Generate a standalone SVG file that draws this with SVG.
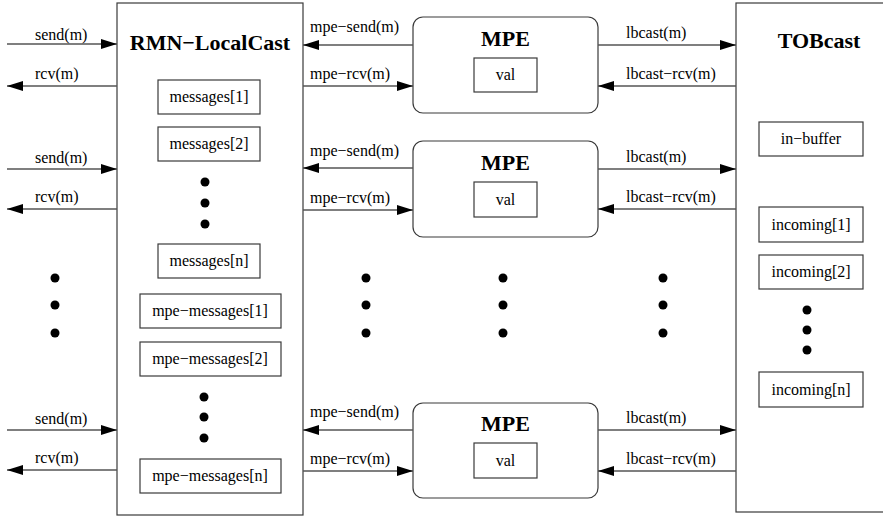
<svg xmlns="http://www.w3.org/2000/svg" width="883" height="517" viewBox="0 0 883 517">
<style>
.box{fill:#fff;stroke:#3a3a3a;stroke-width:1.2}
.ln{fill:none;stroke:#555;stroke-width:1.3}
.lbl{font-family:"Liberation Serif",serif;font-size:16px;fill:#000}
.ctr{font-family:"Liberation Serif",serif;font-size:16px;fill:#000;text-anchor:middle}
.ttl{font-family:"Liberation Serif",serif;font-size:22px;font-weight:bold;fill:#000;text-anchor:middle}
.dot{fill:#000}
</style>
<defs>
<marker id="ah" markerUnits="userSpaceOnUse" markerWidth="16" markerHeight="10" refX="16" refY="5" orient="auto">
<path d="M0,0 L16,5 L0,10 Z" fill="#000"/>
</marker>
</defs>
<rect width="883" height="517" fill="#fff"/>

<g id="rmn-localcast">
<rect class="box" x="117" y="3" width="186" height="512"/>
<text class="ttl" x="210" y="50">RMN−LocalCast</text>
<rect class="box" x="158" y="80" width="102" height="34"/>
<text class="ctr" x="209" y="102">messages[1]</text>
<rect class="box" x="158" y="127" width="102" height="34"/>
<text class="ctr" x="209" y="149">messages[2]</text>
<circle class="dot" cx="205" cy="182" r="4.5"/>
<circle class="dot" cx="205" cy="203" r="4.5"/>
<circle class="dot" cx="205" cy="224" r="4.5"/>
<rect class="box" x="158" y="244" width="102" height="34"/>
<text class="ctr" x="209" y="266">messages[n]</text>
<rect class="box" x="140" y="294" width="141" height="34"/>
<text class="ctr" x="210" y="316">mpe−messages[1]</text>
<rect class="box" x="140" y="342" width="141" height="34"/>
<text class="ctr" x="210" y="364">mpe−messages[2]</text>
<circle class="dot" cx="204" cy="397" r="4.5"/>
<circle class="dot" cx="204" cy="417" r="4.5"/>
<circle class="dot" cx="204" cy="438" r="4.5"/>
<rect class="box" x="140" y="459" width="141" height="34"/>
<text class="ctr" x="210" y="481">mpe−messages[n]</text>
</g>

<g id="mpe-1">
<rect class="box" x="413" y="17" width="185" height="96" rx="10"/>
<text class="ttl" x="505.5" y="45.5">MPE</text>
<rect class="box" x="474" y="58" width="63" height="34"/>
<text class="ctr" x="505.5" y="80">val</text>
</g>
<g id="mpe-2">
<rect class="box" x="413" y="141" width="185" height="96" rx="10"/>
<text class="ttl" x="505.5" y="170">MPE</text>
<rect class="box" x="474" y="182" width="63" height="35"/>
<text class="ctr" x="505.5" y="204.5">val</text>
</g>
<g id="mpe-n">
<rect class="box" x="413" y="403" width="185" height="95" rx="10"/>
<text class="ttl" x="505.5" y="430.5">MPE</text>
<rect class="box" x="474" y="443" width="63" height="35"/>
<text class="ctr" x="505.5" y="465.5">val</text>
</g>

<g id="tobcast">
<rect class="box" x="736" y="3" width="160" height="509"/>
<text class="ttl" x="819" y="48">TOBcast</text>
<rect class="box" x="759" y="122" width="104" height="34"/>
<text class="ctr" x="811" y="144">in−buffer</text>
<rect class="box" x="759" y="207" width="104" height="35"/>
<text class="ctr" x="811" y="229.5">incoming[1]</text>
<rect class="box" x="759" y="255" width="104" height="34"/>
<text class="ctr" x="811" y="277">incoming[2]</text>
<circle class="dot" cx="807" cy="310" r="4.5"/>
<circle class="dot" cx="807" cy="330" r="4.5"/>
<circle class="dot" cx="807" cy="350" r="4.5"/>
<rect class="box" x="759" y="372" width="104" height="35"/>
<text class="ctr" x="811" y="394.5">incoming[n]</text>
</g>

<g id="ellipsis">
<circle class="dot" cx="55" cy="278" r="4.5"/>
<circle class="dot" cx="55" cy="305" r="4.5"/>
<circle class="dot" cx="55" cy="333" r="4.5"/>
<circle class="dot" cx="366" cy="278" r="4.5"/>
<circle class="dot" cx="366" cy="305" r="4.5"/>
<circle class="dot" cx="366" cy="333" r="4.5"/>
<circle class="dot" cx="503" cy="278" r="4.5"/>
<circle class="dot" cx="503" cy="305" r="4.5"/>
<circle class="dot" cx="503" cy="333" r="4.5"/>
<circle class="dot" cx="663" cy="278" r="4.5"/>
<circle class="dot" cx="663" cy="305" r="4.5"/>
<circle class="dot" cx="663" cy="333" r="4.5"/>
</g>

<g id="connectors">
<line class="ln" x1="7" y1="44" x2="117" y2="44" marker-end="url(#ah)"/>
<text class="lbl" x="35" y="39.5">send(m)</text>
<line class="ln" x1="117" y1="86" x2="7" y2="86" marker-end="url(#ah)"/>
<text class="lbl" x="35" y="79">rcv(m)</text>
<line class="ln" x1="413" y1="45" x2="303" y2="45" marker-end="url(#ah)"/>
<text class="lbl" x="310" y="31.5">mpe−send(m)</text>
<line class="ln" x1="303" y1="86" x2="413" y2="86" marker-end="url(#ah)"/>
<text class="lbl" x="310" y="79">mpe−rcv(m)</text>
<line class="ln" x1="598" y1="45" x2="736" y2="45" marker-end="url(#ah)"/>
<text class="lbl" x="626" y="38">lbcast(m)</text>
<line class="ln" x1="736" y1="86" x2="598" y2="86" marker-end="url(#ah)"/>
<text class="lbl" x="626" y="79">lbcast−rcv(m)</text>

<line class="ln" x1="7" y1="169" x2="117" y2="169" marker-end="url(#ah)"/>
<text class="lbl" x="35" y="163">send(m)</text>
<line class="ln" x1="117" y1="209" x2="7" y2="209" marker-end="url(#ah)"/>
<text class="lbl" x="35" y="202">rcv(m)</text>
<line class="ln" x1="413" y1="168" x2="303" y2="168" marker-end="url(#ah)"/>
<text class="lbl" x="310" y="155.5">mpe−send(m)</text>
<line class="ln" x1="303" y1="210" x2="413" y2="210" marker-end="url(#ah)"/>
<text class="lbl" x="310" y="203">mpe−rcv(m)</text>
<line class="ln" x1="598" y1="169" x2="736" y2="169" marker-end="url(#ah)"/>
<text class="lbl" x="626" y="162">lbcast(m)</text>
<line class="ln" x1="736" y1="209" x2="598" y2="209" marker-end="url(#ah)"/>
<text class="lbl" x="626" y="202">lbcast−rcv(m)</text>

<line class="ln" x1="7" y1="430" x2="117" y2="430" marker-end="url(#ah)"/>
<text class="lbl" x="35" y="424">send(m)</text>
<line class="ln" x1="117" y1="470" x2="7" y2="470" marker-end="url(#ah)"/>
<text class="lbl" x="35" y="463">rcv(m)</text>
<line class="ln" x1="413" y1="430" x2="303" y2="430" marker-end="url(#ah)"/>
<text class="lbl" x="310" y="416.5">mpe−send(m)</text>
<line class="ln" x1="303" y1="471" x2="413" y2="471" marker-end="url(#ah)"/>
<text class="lbl" x="310" y="464">mpe−rcv(m)</text>
<line class="ln" x1="598" y1="430" x2="736" y2="430" marker-end="url(#ah)"/>
<text class="lbl" x="626" y="423">lbcast(m)</text>
<line class="ln" x1="736" y1="471" x2="598" y2="471" marker-end="url(#ah)"/>
<text class="lbl" x="626" y="464">lbcast−rcv(m)</text>
</g>
</svg>
